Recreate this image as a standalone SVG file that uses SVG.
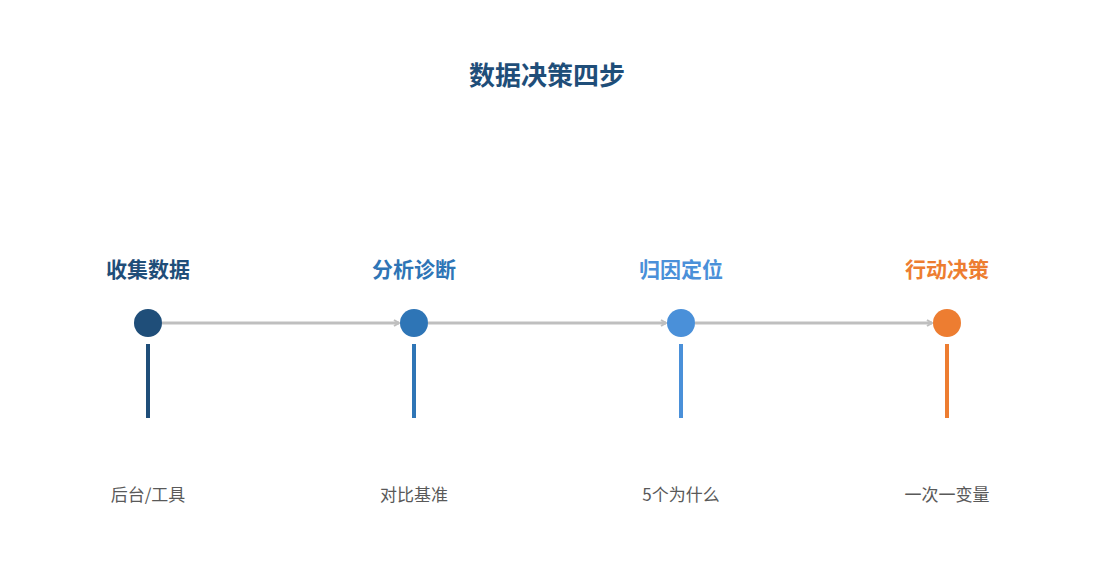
<svg xmlns="http://www.w3.org/2000/svg" width="1095" height="585" viewBox="0 0 1095 585">
<style>
text{font-family:"Noto Sans CJK SC","Liberation Sans",sans-serif;text-anchor:middle}
.t{font-size:21px;font-weight:bold}
.s{font-size:17px;fill:#595959}
.c{stroke:#bfbfbf;stroke-width:3;fill:none}
</style>
<defs><marker id="a" markerWidth="8" markerHeight="8" refX="6" refY="4" orient="auto" markerUnits="userSpaceOnUse"><path d="M1,1 L6,4 L1,7" fill="none" stroke="#bfbfbf" stroke-width="2"/></marker></defs>
<rect width="1095" height="585" fill="#fff"/>
<text x="547" y="85" font-size="26" font-weight="bold" fill="#1f4e79">数据决策四步</text>
<g id="connectors">
<line class="c" x1="162" y1="323" x2="399" y2="323" marker-end="url(#a)"/>
<line class="c" x1="428" y1="323" x2="666" y2="323" marker-end="url(#a)"/>
<line class="c" x1="695" y1="323" x2="932" y2="323" marker-end="url(#a)"/>
</g>
<g id="n1"><text class="t" x="148" y="277" fill="#1f4e79">收集数据</text><circle cx="148" cy="323" r="14" fill="#1f4e79"/><line x1="148" y1="344" x2="148" y2="418" stroke="#1f4e79" stroke-width="4"/><text class="s" x="148" y="501">后台/工具</text></g>
<g id="n2"><text class="t" x="414" y="277" fill="#2e75b6">分析诊断</text><circle cx="414" cy="323" r="14" fill="#2e75b6"/><line x1="414" y1="344" x2="414" y2="418" stroke="#2e75b6" stroke-width="4"/><text class="s" x="414" y="501">对比基准</text></g>
<g id="n3"><text class="t" x="681" y="277" fill="#4a90d9">归因定位</text><circle cx="681" cy="323" r="14" fill="#4a90d9"/><line x1="681" y1="344" x2="681" y2="418" stroke="#4a90d9" stroke-width="4"/><text class="s" x="681" y="501">5个为什么</text></g>
<g id="n4"><text class="t" x="947" y="277" fill="#ed7d31">行动决策</text><circle cx="947" cy="323" r="14" fill="#ed7d31"/><line x1="947" y1="344" x2="947" y2="418" stroke="#ed7d31" stroke-width="4"/><text class="s" x="947" y="501">一次一变量</text></g>
</svg>
